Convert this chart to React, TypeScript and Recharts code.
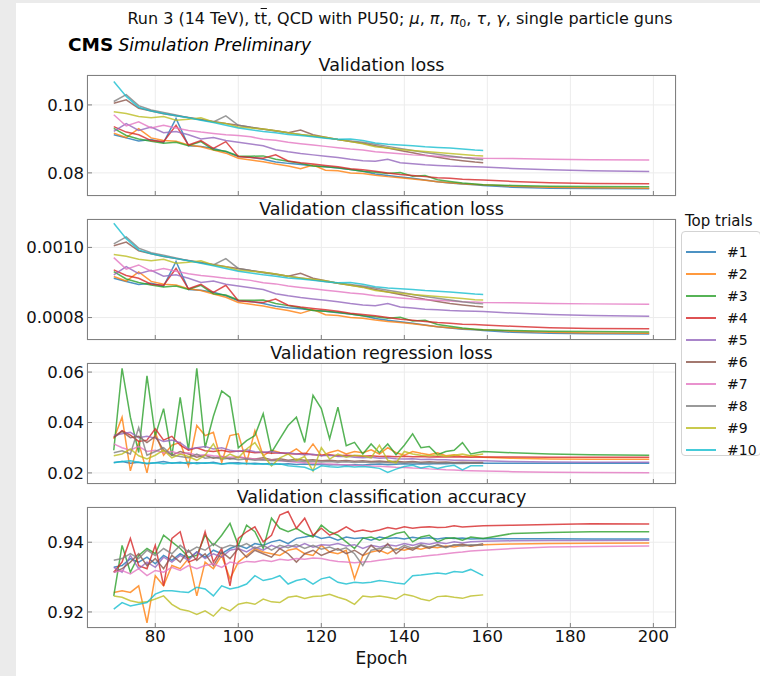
import { CartesianGrid, Line, LineChart, XAxis, YAxis } from "recharts";

// Epoch grids. Loss panels are smooth, so every 3rd epoch is read; the two
// noisy panels are read every 2nd epoch. Trials #6, #8, #9, #10 stop at 159.
const EPOCHS_SMOOTH = [
  70, 73, 76, 79, 82, 85, 88, 91, 94, 97, 100, 103, 106, 109, 112, 115, 118, 121, 124, 127,
  130, 133, 136, 139, 142, 145, 148, 151, 154, 157, 159, 166, 175, 185, 199,
];
const EPOCHS_NOISY = [
  70, 72, 74, 76, 78, 80, 82, 84, 86, 88, 90, 92, 94, 96, 98, 100, 102, 104, 106, 108,
  110, 112, 114, 116, 118, 120, 122, 124, 126, 128, 130, 132, 134, 136, 138, 140, 142, 144,
  146, 148, 150, 152, 154, 156, 159, 166, 175, 185, 199,
];

const TRIALS = ["#1", "#2", "#3", "#4", "#5", "#6", "#7", "#8", "#9", "#10"];

const X_TICKS = [80, 100, 120, 140, 160, 180, 200];

// Validation loss, one list per trial
const VAL_LOSS = [
  [0.0912, 0.0903, 0.0894, 0.0898, 0.0889, 0.096, 0.088, 0.0878, 0.0872, 0.0862, 0.0848, 0.0846, 0.084, 0.0832, 0.0828, 0.0825, 0.0821, 0.0818, 0.0814, 0.081, 0.0805, 0.0797, 0.0792, 0.0788, 0.0784, 0.0779, 0.0774, 0.077, 0.0767, 0.0765, 0.0763, 0.0758, 0.0755, 0.0754, 0.0753],
  [0.0917, 0.0904, 0.093, 0.0903, 0.0895, 0.0893, 0.0882, 0.0877, 0.0867, 0.0858, 0.0843, 0.0838, 0.0833, 0.0826, 0.082, 0.0812, 0.0823, 0.0808, 0.0806, 0.08, 0.0798, 0.0793, 0.0789, 0.0786, 0.0782, 0.0778, 0.0774, 0.0771, 0.0768, 0.0766, 0.0765, 0.0761, 0.0758, 0.0756, 0.0755],
  [0.0931, 0.091, 0.09, 0.0893, 0.0887, 0.089, 0.088, 0.0892, 0.0868, 0.0864, 0.085, 0.0849, 0.085, 0.084, 0.0834, 0.0828, 0.082, 0.0818, 0.0815, 0.081, 0.0805, 0.0802, 0.0798, 0.0801, 0.079, 0.0792, 0.078, 0.0775, 0.077, 0.0767, 0.0765, 0.0763, 0.0761, 0.076, 0.0759],
  [0.0936, 0.092, 0.0912, 0.0895, 0.0892, 0.094, 0.0882, 0.0895, 0.0872, 0.0892, 0.0848, 0.0845, 0.0843, 0.0853, 0.0835, 0.083, 0.0826, 0.0822, 0.0818, 0.0812, 0.0809, 0.0805, 0.08, 0.0795, 0.0792, 0.0789, 0.0786, 0.0784, 0.0781, 0.078, 0.0779, 0.0775, 0.0771, 0.0769, 0.0768],
  [0.0922, 0.0945, 0.0925, 0.0935, 0.0918, 0.0922, 0.0912, 0.09, 0.0904, 0.0895, 0.089, 0.0885, 0.088, 0.0868, 0.0862, 0.0857, 0.0853, 0.0849, 0.0845, 0.084, 0.0836, 0.0834, 0.084, 0.083, 0.0827, 0.0824, 0.0822, 0.082, 0.0819, 0.0818, 0.0817, 0.0813, 0.0809, 0.0806, 0.0804],
  [0.1005, 0.1015, 0.099, 0.0982, 0.0974, 0.0968, 0.0963, 0.0957, 0.0951, 0.0945, 0.094, 0.0934, 0.0929, 0.0924, 0.0918, 0.0926, 0.0912, 0.0905, 0.0898, 0.0892, 0.0887, 0.088, 0.0873, 0.0866, 0.0859, 0.0852, 0.0846, 0.084, 0.0836, 0.0832, 0.083],
  [0.0971, 0.0938, 0.095, 0.0932, 0.094, 0.0932, 0.0925, 0.092, 0.0916, 0.0912, 0.091, 0.0906, 0.0899, 0.0896, 0.089, 0.0886, 0.0882, 0.0878, 0.0874, 0.087, 0.0867, 0.0862, 0.0859, 0.0856, 0.0853, 0.0851, 0.0849, 0.0847, 0.0845, 0.0844, 0.0843, 0.0842, 0.084, 0.0839, 0.0838],
  [0.101, 0.103, 0.0998, 0.0985, 0.0978, 0.097, 0.0962, 0.0956, 0.095, 0.0968, 0.094, 0.0934, 0.0928, 0.0923, 0.0918, 0.0913, 0.0908, 0.0903, 0.0898, 0.0894, 0.089, 0.0884, 0.0878, 0.0872, 0.0866, 0.086, 0.0855, 0.085, 0.0845, 0.0841, 0.0839],
  [0.098, 0.0975, 0.0966, 0.0962, 0.0966, 0.0955, 0.0958, 0.0962, 0.095, 0.0945, 0.0935, 0.0932, 0.0929, 0.0924, 0.0918, 0.0913, 0.0909, 0.0905, 0.0898, 0.0892, 0.0886, 0.0877, 0.0873, 0.0869, 0.0866, 0.0863, 0.086, 0.0857, 0.0854, 0.0851, 0.085],
  [0.1069, 0.1025, 0.0993, 0.0982, 0.0975, 0.0968, 0.0962, 0.0955, 0.0948, 0.094, 0.0932, 0.0927, 0.0922, 0.0918, 0.0913, 0.091, 0.0906, 0.0902, 0.0899, 0.09, 0.0895, 0.0888, 0.0884, 0.0882, 0.088, 0.0877, 0.0875, 0.0873, 0.087, 0.0867, 0.0866],
];

// Validation classification loss
const VAL_CLS_LOSS = [
  [9.12e-4, 9.03e-4, 8.94e-4, 8.98e-4, 8.89e-4, 9.6e-4, 8.8e-4, 8.78e-4, 8.72e-4, 8.62e-4, 8.48e-4, 8.46e-4, 8.4e-4, 8.32e-4, 8.28e-4, 8.25e-4, 8.21e-4, 8.18e-4, 8.14e-4, 8.1e-4, 8.05e-4, 7.97e-4, 7.92e-4, 7.88e-4, 7.84e-4, 7.79e-4, 7.74e-4, 7.7e-4, 7.67e-4, 7.65e-4, 7.63e-4, 7.58e-4, 7.55e-4, 7.54e-4, 7.53e-4],
  [9.17e-4, 9.04e-4, 9.3e-4, 9.03e-4, 8.95e-4, 8.93e-4, 8.82e-4, 8.77e-4, 8.67e-4, 8.58e-4, 8.43e-4, 8.38e-4, 8.33e-4, 8.26e-4, 8.2e-4, 8.12e-4, 8.23e-4, 8.08e-4, 8.06e-4, 8.0e-4, 7.98e-4, 7.93e-4, 7.89e-4, 7.86e-4, 7.82e-4, 7.78e-4, 7.74e-4, 7.71e-4, 7.68e-4, 7.66e-4, 7.65e-4, 7.61e-4, 7.58e-4, 7.56e-4, 7.55e-4],
  [9.31e-4, 9.1e-4, 9.0e-4, 8.93e-4, 8.87e-4, 8.9e-4, 8.8e-4, 8.92e-4, 8.68e-4, 8.64e-4, 8.5e-4, 8.49e-4, 8.5e-4, 8.4e-4, 8.34e-4, 8.28e-4, 8.2e-4, 8.18e-4, 8.15e-4, 8.1e-4, 8.05e-4, 8.02e-4, 7.98e-4, 8.01e-4, 7.9e-4, 7.92e-4, 7.8e-4, 7.75e-4, 7.7e-4, 7.67e-4, 7.65e-4, 7.63e-4, 7.61e-4, 7.6e-4, 7.59e-4],
  [9.36e-4, 9.2e-4, 9.12e-4, 8.95e-4, 8.92e-4, 9.4e-4, 8.82e-4, 8.95e-4, 8.72e-4, 8.92e-4, 8.48e-4, 8.45e-4, 8.43e-4, 8.53e-4, 8.35e-4, 8.3e-4, 8.26e-4, 8.22e-4, 8.18e-4, 8.12e-4, 8.09e-4, 8.05e-4, 8.0e-4, 7.95e-4, 7.92e-4, 7.89e-4, 7.86e-4, 7.84e-4, 7.81e-4, 7.8e-4, 7.79e-4, 7.75e-4, 7.71e-4, 7.69e-4, 7.68e-4],
  [9.22e-4, 9.45e-4, 9.25e-4, 9.35e-4, 9.18e-4, 9.22e-4, 9.12e-4, 9.0e-4, 9.04e-4, 8.95e-4, 8.9e-4, 8.85e-4, 8.8e-4, 8.68e-4, 8.62e-4, 8.57e-4, 8.53e-4, 8.49e-4, 8.45e-4, 8.4e-4, 8.36e-4, 8.34e-4, 8.4e-4, 8.3e-4, 8.27e-4, 8.24e-4, 8.22e-4, 8.2e-4, 8.19e-4, 8.18e-4, 8.17e-4, 8.13e-4, 8.09e-4, 8.06e-4, 8.04e-4],
  [1.005e-3, 1.015e-3, 9.9e-4, 9.82e-4, 9.74e-4, 9.68e-4, 9.63e-4, 9.57e-4, 9.51e-4, 9.45e-4, 9.4e-4, 9.34e-4, 9.29e-4, 9.24e-4, 9.18e-4, 9.26e-4, 9.12e-4, 9.05e-4, 8.98e-4, 8.92e-4, 8.87e-4, 8.8e-4, 8.73e-4, 8.66e-4, 8.59e-4, 8.52e-4, 8.46e-4, 8.4e-4, 8.36e-4, 8.32e-4, 8.3e-4],
  [9.71e-4, 9.38e-4, 9.5e-4, 9.32e-4, 9.4e-4, 9.32e-4, 9.25e-4, 9.2e-4, 9.16e-4, 9.12e-4, 9.1e-4, 9.06e-4, 8.99e-4, 8.96e-4, 8.9e-4, 8.86e-4, 8.82e-4, 8.78e-4, 8.74e-4, 8.7e-4, 8.67e-4, 8.62e-4, 8.59e-4, 8.56e-4, 8.53e-4, 8.51e-4, 8.49e-4, 8.47e-4, 8.45e-4, 8.44e-4, 8.43e-4, 8.42e-4, 8.4e-4, 8.39e-4, 8.38e-4],
  [1.01e-3, 1.03e-3, 9.98e-4, 9.85e-4, 9.78e-4, 9.7e-4, 9.62e-4, 9.56e-4, 9.5e-4, 9.68e-4, 9.4e-4, 9.34e-4, 9.28e-4, 9.23e-4, 9.18e-4, 9.13e-4, 9.08e-4, 9.03e-4, 8.98e-4, 8.94e-4, 8.9e-4, 8.84e-4, 8.78e-4, 8.72e-4, 8.66e-4, 8.6e-4, 8.55e-4, 8.5e-4, 8.45e-4, 8.41e-4, 8.39e-4],
  [9.8e-4, 9.75e-4, 9.66e-4, 9.62e-4, 9.66e-4, 9.55e-4, 9.58e-4, 9.62e-4, 9.5e-4, 9.45e-4, 9.35e-4, 9.32e-4, 9.29e-4, 9.24e-4, 9.18e-4, 9.13e-4, 9.09e-4, 9.05e-4, 8.98e-4, 8.92e-4, 8.86e-4, 8.77e-4, 8.73e-4, 8.69e-4, 8.66e-4, 8.63e-4, 8.6e-4, 8.57e-4, 8.54e-4, 8.51e-4, 8.5e-4],
  [1.069e-3, 1.025e-3, 9.93e-4, 9.82e-4, 9.75e-4, 9.68e-4, 9.62e-4, 9.55e-4, 9.48e-4, 9.4e-4, 9.32e-4, 9.27e-4, 9.22e-4, 9.18e-4, 9.13e-4, 9.1e-4, 9.06e-4, 9.02e-4, 8.99e-4, 9.0e-4, 8.95e-4, 8.88e-4, 8.84e-4, 8.82e-4, 8.8e-4, 8.77e-4, 8.75e-4, 8.73e-4, 8.7e-4, 8.67e-4, 8.66e-4],
];

// Validation regression loss
const VAL_REG_LOSS = [
  [0.0241, 0.0245, 0.0238, 0.0242, 0.0236, 0.024, 0.0245, 0.0238, 0.0242, 0.0236, 0.024, 0.0238, 0.0242, 0.0235, 0.0239, 0.024, 0.0236, 0.0238, 0.0235, 0.0237, 0.0234, 0.0236, 0.0233, 0.0235, 0.0232, 0.0234, 0.0231, 0.0233, 0.023, 0.0232, 0.0231, 0.0233, 0.0235, 0.0232, 0.0234, 0.0236, 0.0234, 0.0236, 0.0235, 0.0237, 0.0236, 0.0238, 0.0237, 0.0238, 0.0238, 0.0238, 0.0238, 0.0238, 0.0238],
  [0.0335, 0.0421, 0.0208, 0.032, 0.02, 0.0361, 0.027, 0.031, 0.0321, 0.0228, 0.0388, 0.0348, 0.0361, 0.0241, 0.0348, 0.0355, 0.0241, 0.0368, 0.0268, 0.029, 0.0281, 0.0275, 0.0295, 0.027, 0.0315, 0.0268, 0.0281, 0.029, 0.0275, 0.0285, 0.028, 0.0292, 0.0275, 0.03, 0.028, 0.027, 0.0285, 0.0278, 0.0272, 0.028, 0.0268, 0.0272, 0.0265, 0.0268, 0.0262, 0.0258, 0.0255, 0.0254, 0.0254],
  [0.029, 0.0615, 0.0421, 0.0281, 0.0585, 0.0348, 0.0455, 0.0268, 0.05, 0.029, 0.0615, 0.03, 0.0425, 0.0525, 0.05, 0.03, 0.0328, 0.0348, 0.0435, 0.0281, 0.0335, 0.0388, 0.0421, 0.0321, 0.0508, 0.0455, 0.0335, 0.0461, 0.0308, 0.0321, 0.0275, 0.0315, 0.028, 0.0315, 0.0272, 0.031, 0.0355, 0.03, 0.0305, 0.0272, 0.0285, 0.029, 0.032, 0.0275, 0.0285, 0.028, 0.0275, 0.0272, 0.027],
  [0.0341, 0.0368, 0.035, 0.0325, 0.033, 0.0375, 0.033, 0.0345, 0.031, 0.029, 0.03, 0.0288, 0.0285, 0.029, 0.0283, 0.0287, 0.0285, 0.028, 0.0282, 0.0278, 0.028, 0.0276, 0.0275, 0.0278, 0.0272, 0.027, 0.0272, 0.0268, 0.027, 0.0268, 0.0266, 0.0268, 0.0265, 0.0266, 0.0264, 0.0266, 0.0264, 0.0265, 0.0263, 0.0264, 0.0263, 0.0264, 0.0263, 0.0262, 0.0263, 0.0263, 0.0262, 0.0262, 0.0262],
  [0.0348, 0.0355, 0.0361, 0.034, 0.0345, 0.0338, 0.0325, 0.033, 0.032, 0.0295, 0.03, 0.0305, 0.0295, 0.03, 0.029, 0.0285, 0.0292, 0.0284, 0.0282, 0.0285, 0.0278, 0.028, 0.0275, 0.0272, 0.0274, 0.0268, 0.027, 0.0265, 0.0266, 0.0262, 0.026, 0.0262, 0.0258, 0.026, 0.0256, 0.0255, 0.0256, 0.0253, 0.0254, 0.0252, 0.0252, 0.025, 0.025, 0.0249, 0.0248, 0.0245, 0.0243, 0.0242, 0.0242],
  [0.034, 0.0365, 0.034, 0.0345, 0.032, 0.0345, 0.029, 0.027, 0.0285, 0.0275, 0.0262, 0.027, 0.0258, 0.0265, 0.0255, 0.0262, 0.0258, 0.0255, 0.026, 0.0252, 0.0256, 0.025, 0.0254, 0.025, 0.0252, 0.0248, 0.025, 0.0247, 0.0249, 0.0246, 0.0248, 0.0245, 0.0247, 0.0244, 0.0246, 0.0243, 0.0245, 0.0242, 0.0244, 0.0242, 0.0243, 0.0241, 0.0242, 0.0241, 0.0241],
  [0.0315, 0.03, 0.029, 0.0305, 0.0285, 0.029, 0.028, 0.0285, 0.0275, 0.028, 0.027, 0.0272, 0.0268, 0.0265, 0.0262, 0.0265, 0.0258, 0.0255, 0.0252, 0.025, 0.0248, 0.0245, 0.0242, 0.024, 0.0238, 0.0236, 0.0235, 0.0233, 0.0232, 0.023, 0.0229, 0.0227, 0.0226, 0.0224, 0.0222, 0.0221, 0.0219, 0.0218, 0.0216, 0.0215, 0.0213, 0.0212, 0.021, 0.0209, 0.0208, 0.0205, 0.0203, 0.0202, 0.0201],
  [0.028, 0.0288, 0.0275, 0.038, 0.027, 0.0285, 0.03, 0.027, 0.0265, 0.026, 0.0275, 0.0258, 0.0262, 0.0255, 0.0258, 0.0252, 0.0255, 0.025, 0.0252, 0.0248, 0.025, 0.0246, 0.0248, 0.0245, 0.0246, 0.0243, 0.0245, 0.0242, 0.0244, 0.0241, 0.0243, 0.024, 0.0242, 0.024, 0.0241, 0.0239, 0.0241, 0.0239, 0.024, 0.0238, 0.024, 0.0238, 0.0239, 0.0238, 0.0239],
  [0.0268, 0.0275, 0.0295, 0.0268, 0.0255, 0.027, 0.029, 0.026, 0.0275, 0.0265, 0.025, 0.027, 0.0315, 0.0255, 0.0275, 0.026, 0.0295, 0.032, 0.027, 0.0228, 0.026, 0.0275, 0.025, 0.0265, 0.0208, 0.03, 0.0255, 0.0275, 0.0262, 0.027, 0.0268, 0.026, 0.031, 0.025, 0.024, 0.0285, 0.0275, 0.027, 0.0268, 0.0272, 0.0265, 0.027, 0.0275, 0.0268, 0.0275],
  [0.024, 0.0245, 0.0248, 0.0242, 0.0238, 0.024, 0.0236, 0.024, 0.0238, 0.0242, 0.0236, 0.024, 0.0238, 0.0235, 0.0238, 0.0235, 0.0238, 0.0234, 0.0236, 0.0232, 0.0236, 0.0228, 0.0225, 0.0222, 0.021, 0.0228, 0.0224, 0.0222, 0.0226, 0.0223, 0.0225, 0.0222, 0.0218, 0.0202, 0.0215, 0.0225, 0.023, 0.022, 0.0226, 0.0218, 0.0225, 0.023, 0.0212, 0.0228, 0.0228],
];

// Validation classification accuracy
const VAL_ACC = [
  [0.9328, 0.9333, 0.9353, 0.9343, 0.9357, 0.9338, 0.9362, 0.9348, 0.9367, 0.9353, 0.9372, 0.9357, 0.9377, 0.9367, 0.9382, 0.9391, 0.9382, 0.9396, 0.9391, 0.9401, 0.9406, 0.9396, 0.9411, 0.9415, 0.942, 0.9411, 0.9415, 0.9406, 0.9415, 0.9411, 0.9413, 0.9406, 0.9415, 0.9411, 0.9413, 0.9409, 0.9414, 0.9411, 0.9413, 0.9409, 0.9413, 0.9411, 0.9412, 0.9409, 0.9411, 0.941, 0.941, 0.9409, 0.9409],
  [0.9256, 0.9261, 0.9256, 0.9275, 0.9169, 0.9304, 0.9275, 0.9333, 0.9324, 0.9353, 0.9246, 0.9343, 0.9324, 0.9362, 0.9295, 0.9343, 0.9362, 0.9382, 0.9372, 0.9367, 0.9362, 0.9377, 0.9382, 0.9367, 0.9362, 0.9391, 0.9372, 0.9367, 0.9377, 0.9295, 0.9362, 0.9372, 0.9377, 0.9367, 0.9382, 0.9377, 0.9384, 0.938, 0.9386, 0.9384, 0.9389, 0.9386, 0.9391, 0.9389, 0.9393, 0.9395, 0.9396, 0.9397, 0.9398],
  [0.9246, 0.9391, 0.9314, 0.9362, 0.9382, 0.9367, 0.942, 0.9401, 0.9382, 0.9357, 0.9362, 0.942, 0.9391, 0.942, 0.9454, 0.9391, 0.9449, 0.943, 0.9382, 0.9469, 0.944, 0.943, 0.944, 0.9425, 0.9415, 0.9449, 0.943, 0.942, 0.9401, 0.9382, 0.9411, 0.9415, 0.9406, 0.9415, 0.9425, 0.943, 0.9401, 0.9415, 0.942, 0.9401, 0.9411, 0.9413, 0.9406, 0.9415, 0.9411, 0.9425, 0.9428, 0.943, 0.943],
  [0.9314, 0.9343, 0.9411, 0.9333, 0.9324, 0.9391, 0.9275, 0.9411, 0.943, 0.9343, 0.9353, 0.943, 0.9343, 0.9382, 0.9275, 0.9411, 0.943, 0.9444, 0.9401, 0.942, 0.9478, 0.9488, 0.944, 0.9469, 0.942, 0.944, 0.942, 0.943, 0.9444, 0.943, 0.9435, 0.943, 0.9435, 0.9442, 0.9438, 0.9444, 0.944, 0.9443, 0.9444, 0.9442, 0.9443, 0.9447, 0.9444, 0.9445, 0.9447, 0.9449, 0.9451, 0.9453, 0.9452],
  [0.9328, 0.9314, 0.9362, 0.9324, 0.9343, 0.9328, 0.9357, 0.9343, 0.9362, 0.9348, 0.9372, 0.9353, 0.9367, 0.9357, 0.9377, 0.9382, 0.9372, 0.9386, 0.9377, 0.9391, 0.9382, 0.9391, 0.9386, 0.9396, 0.9386, 0.9393, 0.9391, 0.9396, 0.9389, 0.9393, 0.9382, 0.9391, 0.9386, 0.9393, 0.9389, 0.9396, 0.9391, 0.9398, 0.9394, 0.9399, 0.9396, 0.9401, 0.9398, 0.9401, 0.9403, 0.9404, 0.9405, 0.9405, 0.9406],
  [0.9314, 0.9324, 0.9343, 0.9367, 0.9333, 0.9353, 0.9324, 0.9362, 0.9343, 0.9377, 0.9348, 0.9367, 0.9333, 0.9372, 0.9353, 0.9382, 0.9357, 0.9377, 0.9367, 0.9357, 0.9382, 0.9367, 0.9343, 0.9367, 0.9377, 0.9362, 0.9372, 0.9382, 0.9367, 0.9377, 0.9362, 0.9391, 0.9372, 0.9396, 0.9367, 0.9386, 0.9377, 0.9391, 0.9382, 0.9393, 0.9386, 0.9391, 0.9394, 0.9389, 0.9396],
  [0.9314, 0.9319, 0.9309, 0.9324, 0.9304, 0.9319, 0.9314, 0.9328, 0.9319, 0.9333, 0.9324, 0.9333, 0.9338, 0.9328, 0.9343, 0.9338, 0.9345, 0.9343, 0.9348, 0.9345, 0.9351, 0.9348, 0.9353, 0.9351, 0.9355, 0.9353, 0.9348, 0.9345, 0.9343, 0.9341, 0.9343, 0.9345, 0.9348, 0.9351, 0.9355, 0.9353, 0.9357, 0.9359, 0.9362, 0.9364, 0.9367, 0.937, 0.9372, 0.9375, 0.9377, 0.9382, 0.9386, 0.9388, 0.9389],
  [0.9348, 0.9353, 0.9367, 0.9353, 0.9377, 0.9362, 0.9382, 0.9367, 0.9391, 0.9372, 0.9386, 0.9377, 0.9396, 0.9382, 0.9391, 0.9386, 0.9396, 0.9382, 0.9391, 0.9377, 0.9391, 0.9384, 0.9393, 0.9382, 0.9391, 0.938, 0.9386, 0.9377, 0.9384, 0.9367, 0.9333, 0.9377, 0.9382, 0.9386, 0.9377, 0.9391, 0.9382, 0.9393, 0.9386, 0.9391, 0.9384, 0.9393, 0.9389, 0.9393, 0.9391],
  [0.9246, 0.9242, 0.9232, 0.9227, 0.9229, 0.9237, 0.9246, 0.9222, 0.9208, 0.9203, 0.9193, 0.9203, 0.9188, 0.9213, 0.9203, 0.9222, 0.9227, 0.9222, 0.9237, 0.9229, 0.9227, 0.9242, 0.9246, 0.9239, 0.9244, 0.9246, 0.9251, 0.9242, 0.9235, 0.9222, 0.9246, 0.9243, 0.9246, 0.9242, 0.9237, 0.9251, 0.9246, 0.9237, 0.9232, 0.9244, 0.9246, 0.9242, 0.9239, 0.9246, 0.9249],
  [0.9208, 0.9227, 0.9217, 0.9222, 0.9227, 0.9251, 0.9261, 0.9261, 0.9258, 0.9256, 0.9271, 0.9266, 0.9246, 0.9275, 0.9266, 0.9271, 0.928, 0.9304, 0.929, 0.9295, 0.9304, 0.928, 0.929, 0.9295, 0.928, 0.9295, 0.93, 0.9285, 0.928, 0.9285, 0.9283, 0.9285, 0.929, 0.9287, 0.9283, 0.928, 0.9304, 0.9306, 0.9309, 0.9312, 0.9309, 0.9316, 0.9314, 0.9322, 0.9304],
];

const COLORS = [
  "#1f77b4", "#ff7f0e", "#2ca02c", "#d62728", "#9467bd",
  "#8c564b", "#e377c2", "#7f7f7f", "#bcbd22", "#17becf",
];
const FONT = "'DejaVu Sans', Verdana, sans-serif";
const SPINE = "#808080";
const INK = "#111";

const X_DOMAIN: [number, number] = [63.55, 205.45];
const PLOT_LEFT = 87;
const PLOT_RIGHT = 676;
const PLOT_H = 121;
const PAD_TOP = 6;

function buildRows(epochs: number[], series: number[][]) {
  return epochs.map((epoch, i) => {
    const row: Record<string, number> = { epoch };
    series.forEach((vals, k) => {
      if (i < vals.length) row["t" + k] = vals[i];
    });
    return row;
  });
}

const PANELS = [
  {
    title: "Validation loss",
    top: 75,
    rows: buildRows(EPOCHS_SMOOTH, VAL_LOSS),
    domain: [0.0732, 0.1088],
    ticks: [0.08, 0.1],
    digits: 2,
  },
  {
    title: "Validation classification loss",
    top: 219,
    rows: buildRows(EPOCHS_SMOOTH, VAL_CLS_LOSS),
    domain: [0.000736, 0.001081],
    ticks: [0.0008, 0.001],
    digits: 4,
  },
  {
    title: "Validation regression loss",
    top: 363,
    rows: buildRows(EPOCHS_NOISY, VAL_REG_LOSS),
    domain: [0.0156, 0.0636],
    ticks: [0.02, 0.04, 0.06],
    digits: 2,
  },
  {
    title: "Validation classification accuracy",
    top: 507,
    rows: buildRows(EPOCHS_NOISY, VAL_ACC),
    domain: [0.9154, 0.9501],
    ticks: [0.92, 0.94],
    digits: 2,
  },
];

function XTick(props: any) {
  const { x, y, payload, showLabel } = props;
  return (
    <g>
      <line x1={x} x2={x} y1={y} y2={y - 5} stroke={SPINE} strokeWidth={1} />
      {showLabel && (
        <text x={x} y={y + 14} textAnchor="middle" fontSize={16.5} fill={INK} fontFamily={FONT}>
          {payload.value}
        </text>
      )}
    </g>
  );
}

function YTick(props: any) {
  const { x, y, payload, digits } = props;
  return (
    <g>
      <line x1={x} x2={x + 5} y1={y} y2={y} stroke={SPINE} strokeWidth={1} />
      <text x={x - 3} y={y} dy={5.8} textAnchor="end" fontSize={16.5} fill={INK} fontFamily={FONT}>
        {Number(payload.value).toFixed(digits)}
      </text>
    </g>
  );
}

function Panel({ p, last }: { p: (typeof PANELS)[number]; last: boolean }) {
  return (
    <div style={{ position: "absolute", left: 0, top: p.top - PAD_TOP }}>
      <LineChart
        width={760}
        height={PAD_TOP + PLOT_H + 30}
        data={p.rows}
        margin={{ top: PAD_TOP, right: 760 - PLOT_RIGHT, bottom: 0, left: PLOT_LEFT - 60 }}
      >
        <CartesianGrid stroke="#ececec" strokeWidth={1} />
        <XAxis
          dataKey="epoch"
          type="number"
          domain={X_DOMAIN}
          ticks={X_TICKS}
          interval={0}
          allowDataOverflow
          height={30}
          tickSize={0}
          tickMargin={0}
          axisLine={false}
          tickLine={false}
          tick={(t: any) => <XTick {...t} showLabel={last} />}
        />
        <YAxis
          type="number"
          domain={p.domain}
          ticks={p.ticks}
          interval={0}
          allowDataOverflow
          width={60}
          tickSize={0}
          tickMargin={0}
          axisLine={false}
          tickLine={false}
          tick={(t: any) => <YTick {...t} digits={p.digits} />}
        />
        {TRIALS.map((name, k) => (
          <Line
            key={name}
            type="linear"
            dataKey={"t" + k}
            name={name}
            stroke={COLORS[k]}
            strokeWidth={1.5}
            strokeOpacity={0.8}
            dot={false}
            isAnimationActive={false}
          />
        ))}
      </LineChart>
      <div
        style={{
          position: "absolute",
          left: PLOT_LEFT,
          top: PAD_TOP,
          width: PLOT_RIGHT - PLOT_LEFT,
          height: PLOT_H,
          border: `1.5px solid ${SPINE}`,
          boxSizing: "border-box",
          pointerEvents: "none",
        }}
      />
      <div
        style={{
          position: "absolute",
          left: PLOT_LEFT,
          width: PLOT_RIGHT - PLOT_LEFT,
          top: PAD_TOP - 19,
          textAlign: "center",
          fontSize: 17.5,
          lineHeight: "18px",
          color: INK,
          whiteSpace: "nowrap",
        }}
      >
        {p.title}
      </div>
    </div>
  );
}

export default function App() {
  return (
    <div
      style={{
        position: "relative",
        width: 760,
        height: 676,
        background: "#ebebeb",
        overflow: "hidden",
        fontFamily: FONT,
      }}
    >
      <style>{"body{margin:0}"}</style>
      <div style={{ position: "absolute", left: 16, top: 3, right: 0, bottom: 0, background: "#fff" }} />

      <div
        style={{
          position: "absolute",
          left: 100,
          width: 600,
          top: 10,
          textAlign: "center",
          fontSize: 16,
          lineHeight: "18px",
          color: INK,
          whiteSpace: "nowrap",
        }}
      >
        Run 3 (14 TeV), t<span style={{ textDecoration: "overline" }}>t</span>, QCD with PU50;{" "}
        <i>μ</i>, <i>π</i>, <i>π</i>
        <sub style={{ fontSize: 11, verticalAlign: "-3px" }}>0</sub>, <i>τ</i>, <i>γ</i>, single particle
        guns
      </div>
      <div style={{ position: "absolute", left: 68, top: 35, lineHeight: "20px", color: "#000", whiteSpace: "nowrap" }}>
        <b style={{ fontSize: 18.5 }}>CMS</b>{" "}
        <i style={{ fontSize: 17 }}>Simulation Preliminary</i>
      </div>

      {PANELS.map((p, i) => (
        <Panel key={p.title} p={p} last={i === PANELS.length - 1} />
      ))}

      <div
        style={{
          position: "absolute",
          left: PLOT_LEFT,
          width: PLOT_RIGHT - PLOT_LEFT,
          top: 649,
          textAlign: "center",
          fontSize: 17,
          lineHeight: "18px",
          color: INK,
        }}
      >
        Epoch
      </div>

      <div style={{ position: "absolute", left: 685, top: 212, fontSize: 15, lineHeight: "18px", color: INK, whiteSpace: "nowrap" }}>
        Top trials
      </div>
      <div
        style={{
          position: "absolute",
          left: 681,
          top: 231,
          width: 80,
          height: 225,
          border: "1px solid #d3d3d3",
          borderRadius: 4,
          background: "rgba(255,255,255,0.85)",
          boxSizing: "border-box",
        }}
      >
        {TRIALS.map((name, k) => (
          <div key={name} style={{ position: "absolute", left: 0, top: 20 + k * 22 - 9, height: 18, width: 80 }}>
            <div style={{ position: "absolute", left: 4, top: 8, width: 30, height: 2, background: COLORS[k], opacity: 0.8 }} />
            <div style={{ position: "absolute", left: 45, top: 0, fontSize: 14, lineHeight: "18px", color: INK }}>
              {name}
            </div>
          </div>
        ))}
      </div>
    </div>
  );
}
